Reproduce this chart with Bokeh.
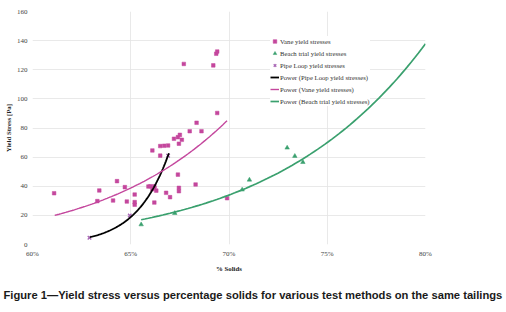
import numpy as np
from bokeh.plotting import figure
from bokeh.models import (Range1d, FixedTicker, CustomJSTickFormatter, Legend, LegendItem, Title)
from bokeh.embed import file_html
from bokeh.resources import INLINE

# ---- data ----
vane_x = [61.1, 63.3, 63.4, 64.1, 64.3, 64.7, 64.8, 65.2, 65.2, 65.2, 65.9, 66.0, 66.1, 66.1,
          66.2, 66.2, 66.3, 66.2, 66.5, 66.5, 66.7, 66.9, 66.8, 67.0, 67.2, 67.4, 67.4, 67.45,
          67.45, 67.45, 67.5, 67.6, 67.7, 68.0, 68.3, 68.35, 68.6, 69.2, 69.35, 69.4, 69.4, 69.9]
vane_y = [35.2, 29.8, 37.1, 30.2, 43.5, 39.4, 29.5, 34.3, 29.1, 27.3, 39.8, 40.0, 38.0, 64.6,
          28.8, 40.0, 37.0, 39.0, 61.0, 67.6, 67.8, 68.0, 35.5, 32.5, 72.6, 73.7, 48.0, 38.9,
          36.6, 69.2, 75.3, 71.9, 124.0, 77.8, 41.2, 83.6, 77.8, 123.0, 131.0, 132.5, 90.3, 31.8]
beach_x = [65.53, 67.24, 70.67, 71.04, 72.96, 73.35, 73.76]
beach_y = [13.7, 21.5, 37.6, 44.4, 66.4, 60.7, 56.5]
pipe_x = [62.9, 64.95, 66.9]
pipe_y = [4.6, 19.9, 61.0]

# power trendline end points: (x0, y0, x1, y1)
pipe_fit = (62.92, 5.0, 66.94, 62.7)
vane_fit = (61.13, 20.0, 69.9, 85.0)
beach_fit = (65.53, 17.0, 80.0, 137.8)

x_ticks = [60, 65, 70, 75, 80]
y_ticks = [0, 20, 40, 60, 80, 100, 120, 140, 160]

PINK = "#c4479d"
GREEN = "#3aa06e"
LILAC = "#a866b5"
SERIF = "Liberation Serif"


def power_curve(fit, n=80):
    x0, y0, x1, y1 = fit
    b = np.log(y1 / y0) / np.log(x1 / x0)
    a = y0 / x0 ** b
    xs = np.linspace(x0, x1, n)
    return xs, a * xs ** b


p = figure(width=506, height=312, output_backend="svg", toolbar_location=None,
           x_range=Range1d(60, 80), y_range=Range1d(0, 160),
           min_border_left=32, min_border_right=81, min_border_top=11, min_border_bottom=68)
p.outline_line_color = None
p.background_fill_color = "white"

for ax in (p.xaxis[0], p.yaxis[0]):
    ax.axis_line_color = None
    ax.major_tick_line_color = None
    ax.minor_tick_line_color = None
    ax.major_tick_out = 0
    ax.major_tick_in = 0
    ax.minor_tick_out = 0
    ax.minor_tick_in = 0
    ax.major_label_text_font = SERIF
    ax.major_label_text_font_size = "7px"
    ax.major_label_text_color = "#444444"
    ax.axis_label_text_font = SERIF
    ax.axis_label_text_font_size = "6.8px"
    ax.axis_label_text_font_style = "bold"
    ax.axis_label_text_color = "#222222"

p.xaxis.ticker = FixedTicker(ticks=x_ticks)
p.yaxis.ticker = FixedTicker(ticks=y_ticks)
p.xaxis.formatter = CustomJSTickFormatter(code="return tick + '%';")
p.xaxis.axis_label = "% Solids"
p.yaxis.axis_label = "Yield Stress [Pa]"
p.xaxis.major_label_standoff = 5
p.yaxis.major_label_standoff = 5
p.xaxis.axis_label_standoff = 4
p.yaxis.axis_label_standoff = 2

p.xgrid.ticker = FixedTicker(ticks=x_ticks)
p.ygrid.ticker = FixedTicker(ticks=y_ticks)
p.xgrid.grid_line_color = "#e3e3e3"
p.ygrid.grid_line_color = "#e3e3e3"
p.xgrid.grid_line_width = 0.8
p.ygrid.grid_line_width = 0.8

r_vane = p.scatter(vane_x, vane_y, marker="square", size=3.6, color=PINK, line_color=PINK, line_width=0.5)
r_beach = p.scatter(beach_x, beach_y, marker="triangle", size=4.5, color=GREEN, line_color=GREEN, line_width=0.5)
r_pipe = p.scatter(pipe_x, pipe_y, marker="x", size=5, line_color=LILAC, line_width=1.3)

px_, py_ = power_curve(pipe_fit)
vx_, vy_ = power_curve(vane_fit)
bx_, by_ = power_curve(beach_fit)
r_lp = p.line(px_, py_, line_color="black", line_width=1.8)
r_lv = p.line(vx_, vy_, line_color=PINK, line_width=1.4)
r_lb = p.line(bx_, by_, line_color=GREEN, line_width=1.7)

legend = Legend(items=[
    LegendItem(label="Vane yield stresses", renderers=[r_vane]),
    LegendItem(label="Beach trial yield stresses", renderers=[r_beach]),
    LegendItem(label="Pipe Loop yield stresses", renderers=[r_pipe]),
    LegendItem(label="Power (Pipe Loop yield stresses)", renderers=[r_lp]),
    LegendItem(label="Power (Vane yield stresses)", renderers=[r_lv]),
    LegendItem(label="Power (Beach trial yield stresses)", renderers=[r_lb]),
], location=(238, 138))
legend.label_text_font = SERIF
legend.label_text_font_size = "6.7px"
legend.label_text_color = "#333333"
legend.border_line_color = None
legend.background_fill_alpha = 1.0
legend.glyph_width = 9
legend.glyph_height = 10
legend.label_height = 10
legend.spacing = 2
legend.padding = 3
legend.margin = 0
legend.label_standoff = 1
p.add_layout(legend, "center")

cap = Title(text="Figure 1\u2014Yield stress versus percentage solids for various test methods on the same tailings",
            text_font="Liberation Sans", text_font_size="11.2px", text_font_style="bold",
            text_color="#1a1a1a", align="left", offset=-29, standoff=24)
p.add_layout(cap, "below")

open("out.html", "w").write(file_html(p, INLINE))
